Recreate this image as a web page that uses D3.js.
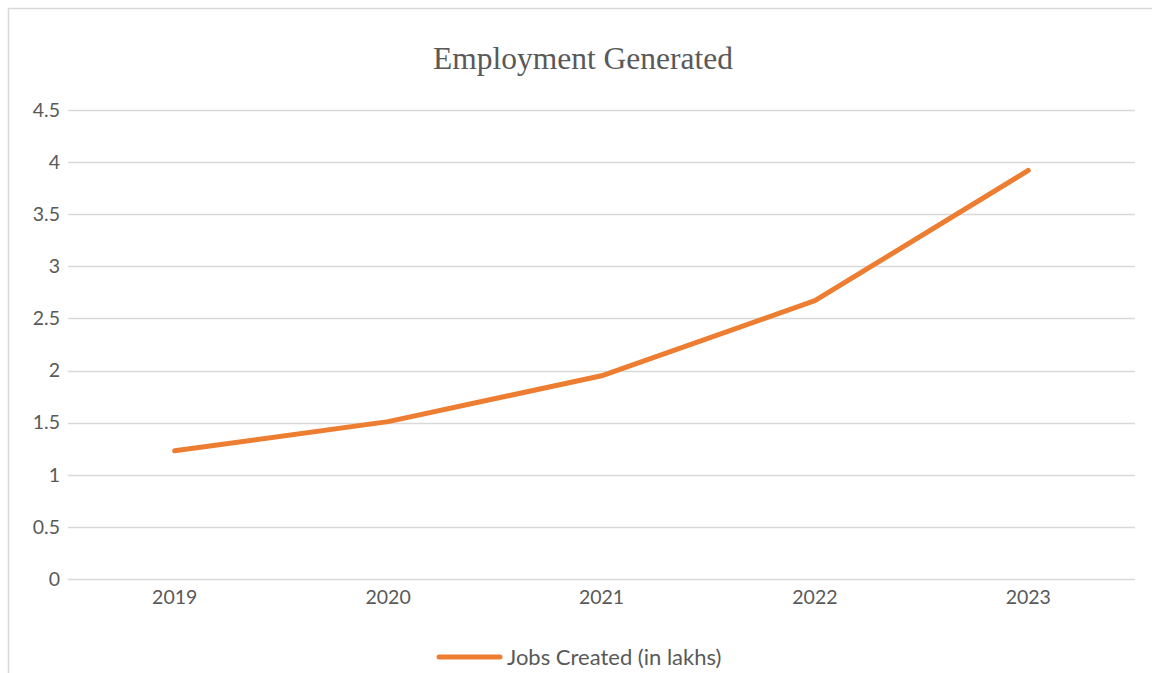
<!DOCTYPE html>
<html>
<head>
<meta charset="utf-8">
<script src="https://cdn.jsdelivr.net/npm/d3@7"></script>
<style>
  body { margin: 0; background: #fff; }
  svg { display: block; }
  .axis text { font-family: Lato, "Open Sans", sans-serif; font-size: 19.5px; fill: #595959; }
</style>
</head>
<body>
<div class="chart"></div>
<script>
const years = ["2019", "2020", "2021", "2022", "2023"];
const jobs = [1.23, 1.51, 1.95, 2.67, 3.92];
const yTicks = [0, 0.5, 1, 1.5, 2, 2.5, 3, 3.5, 4, 4.5];
const seriesName = "Jobs Created (in lakhs)";
const chartTitle = "Employment Generated";

const width = 1152, height = 673;
const plot = { left: 68, right: 1135, top: 110, bottom: 579 };

const svg = d3.select(".chart").append("svg")
  .attr("width", width)
  .attr("height", height);

// chart frame (runs off the right / bottom edge)
svg.append("rect")
  .attr("x", 8.5).attr("y", 8.5)
  .attr("width", 1200).attr("height", 700)
  .attr("fill", "none")
  .attr("stroke", "#d9d9d9")
  .attr("stroke-width", 1.5);

const x = d3.scaleBand().domain(years).range([plot.left, plot.right]);
const y = d3.scaleLinear().domain([0, 4.5]).range([plot.bottom, plot.top]);

// gridlines
svg.append("g")
  .selectAll("line")
  .data(yTicks)
  .join("line")
  .attr("x1", plot.left).attr("x2", plot.right)
  .attr("y1", d => Math.round(y(d)) + 0.5)
  .attr("y2", d => Math.round(y(d)) + 0.5)
  .attr("stroke", "#d9d9d9")
  .attr("stroke-width", 1.5);

// y axis labels
const yAxis = d3.axisLeft(y).tickValues(yTicks).tickSize(0).tickPadding(8).tickFormat(d3.format("~g"));
svg.append("g")
  .attr("class", "axis")
  .attr("transform", `translate(${plot.left},0)`)
  .call(yAxis)
  .call(g => g.select(".domain").remove());

// x axis labels
const xAxis = d3.axisBottom(x).tickSize(0).tickPadding(11);
svg.append("g")
  .attr("class", "axis")
  .attr("transform", `translate(0,${plot.bottom})`)
  .call(xAxis)
  .call(g => g.select(".domain").remove());

// title
svg.append("text")
  .attr("x", 583).attr("y", 69)
  .attr("text-anchor", "middle")
  .attr("font-family", "'Liberation Serif', 'Times New Roman', serif")
  .attr("font-size", 31.5)
  .attr("fill", "#595959")
  .text(chartTitle);

// series line
const line = d3.line()
  .x((d, i) => x(years[i]) + x.bandwidth() / 2)
  .y(d => y(d));

svg.append("path")
  .datum(jobs)
  .attr("d", line)
  .attr("fill", "none")
  .attr("stroke", "#ED7D31")
  .attr("stroke-width", 5)
  .attr("stroke-linecap", "round")
  .attr("stroke-linejoin", "round");

// legend
const leg = svg.append("g").attr("transform", "translate(439,657)");
leg.append("line")
  .attr("x1", 0).attr("x2", 61)
  .attr("stroke", "#ED7D31")
  .attr("stroke-width", 5)
  .attr("stroke-linecap", "round");
leg.append("text")
  .attr("x", 68).attr("y", 7.5)
  .attr("font-family", "Lato, 'Open Sans', sans-serif")
  .attr("font-size", 22)
  .attr("fill", "#595959")
  .text(seriesName);
</script>
</body>
</html>
